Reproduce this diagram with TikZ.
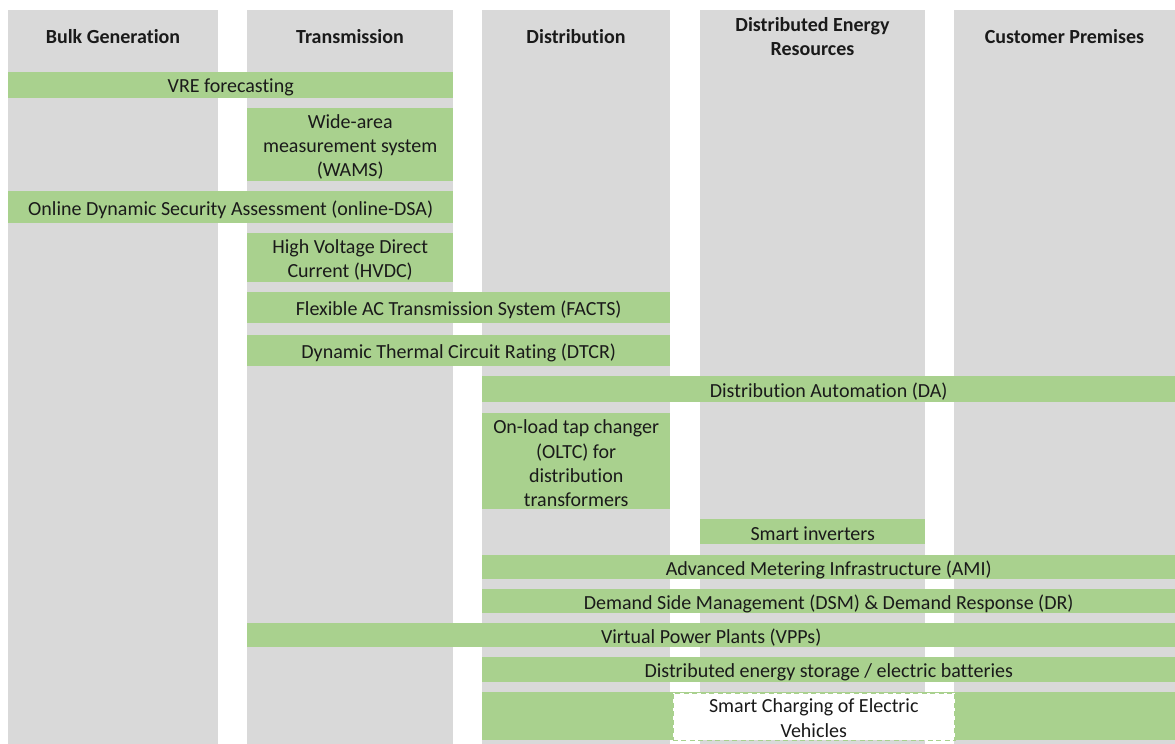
\documentclass[tikz,border=0pt]{standalone}
\usepackage{fontspec}
\setmainfont[Ligatures=NoCommon]{Carlito}
\definecolor{colgray}{HTML}{D9D9D9}
\definecolor{bandgreen}{HTML}{A9D18E}
\definecolor{inktext}{HTML}{1A1A1A}
% a green band with its centred caption: name, left, top, width, height, text
\newcommand\techband[6]{%
  \node[band,minimum width=#4pt,minimum height=#5pt] (#1) at (#2,#3) {};
  \node[bandtext] (#1-text) at ([yshift=-2.3pt]#1.center) {#6};}
\begin{document}
\begin{tikzpicture}[x=1pt,y=-1pt,
  colbox/.style={fill=colgray,draw=none,anchor=north west,inner sep=0pt},
  band/.style={fill=bandgreen,draw=none,anchor=north west,inner sep=0pt},
  bandtext/.style={inner sep=0pt,align=center,text=inktext,font=\fontsize{20}{24.4}\selectfont},
  hdr/.style={align=center,text=inktext,font=\fontsize{20}{24.4}\selectfont\bfseries},
  openbox/.style={fill=white,draw=bandgreen,dash pattern=on 5pt off 3.5pt,line width=1.5pt,
    anchor=north west,inner sep=0pt}]
\useasboundingbox (0,0) rectangle (1175,744);

% grid columns
\node[colbox,minimum width=210pt,minimum height=734pt] (c1) at (8,10) {};
\node[colbox,minimum width=206pt,minimum height=734pt] (c2) at (247,10) {};
\node[colbox,minimum width=188pt,minimum height=734pt] (c3) at (482,10) {};
\node[colbox,minimum width=225pt,minimum height=734pt] (c4) at (700,10) {};
\node[colbox,minimum width=221pt,minimum height=734pt] (c5) at (954,10) {};

% column headings
\node[hdr] (h1) at (113,36.5) {Bulk Generation};
\node[hdr] (h2) at (350,36.5) {Transmission};
\node[hdr] (h3) at (576,36.5) {Distribution};
\node[hdr] (h4) at (812.5,36.5) {Distributed Energy\\Resources};
\node[hdr] (h5) at (1064.5,36.5) {Customer Premises};

% technology bands
\techband{vre}{8}{72}{445}{26}{VRE forecasting}
\techband{wams}{247}{108}{206}{73}{Wide-area\\measurement system\\(WAMS)}
\techband{dsa}{8}{191}{445}{32}{Online Dynamic Security Assessment (online-DSA)}
\techband{hvdc}{247}{233}{206}{49}{High Voltage Direct\\Current (HVDC)}
\techband{facts}{247}{292}{423}{31}{Flexible AC Transmission System (FACTS)}
\techband{dtcr}{247}{335}{423}{31}{Dynamic Thermal Circuit Rating (DTCR)}
\techband{da}{482}{376}{693}{26}{Distribution Automation (DA)}
\techband{oltc}{482}{413}{188}{96}{On-load tap changer\\(OLTC) for\\distribution\\transformers}
\techband{inv}{700}{519}{225}{25}{Smart inverters}
\techband{ami}{482}{555}{693}{24}{Advanced Metering Infrastructure (AMI)}
\techband{dsm}{482}{589}{693}{24}{Demand Side Management (DSM) \& Demand Response (DR)}
\techband{vpp}{247}{623}{928}{24}{Virtual Power Plants (VPPs)}
\techband{stor}{482}{657}{693}{25}{Distributed energy storage / electric batteries}
\node[band,minimum width=693pt,minimum height=48pt] (evband) at (482,692) {};
\node[openbox,minimum width=282pt,minimum height=47pt] (ev) at (672,692.5) {};
\node[bandtext] (ev-text) at ([yshift=-1.5pt]ev.center) {Smart Charging of Electric\\Vehicles};
\end{tikzpicture}
\end{document}
